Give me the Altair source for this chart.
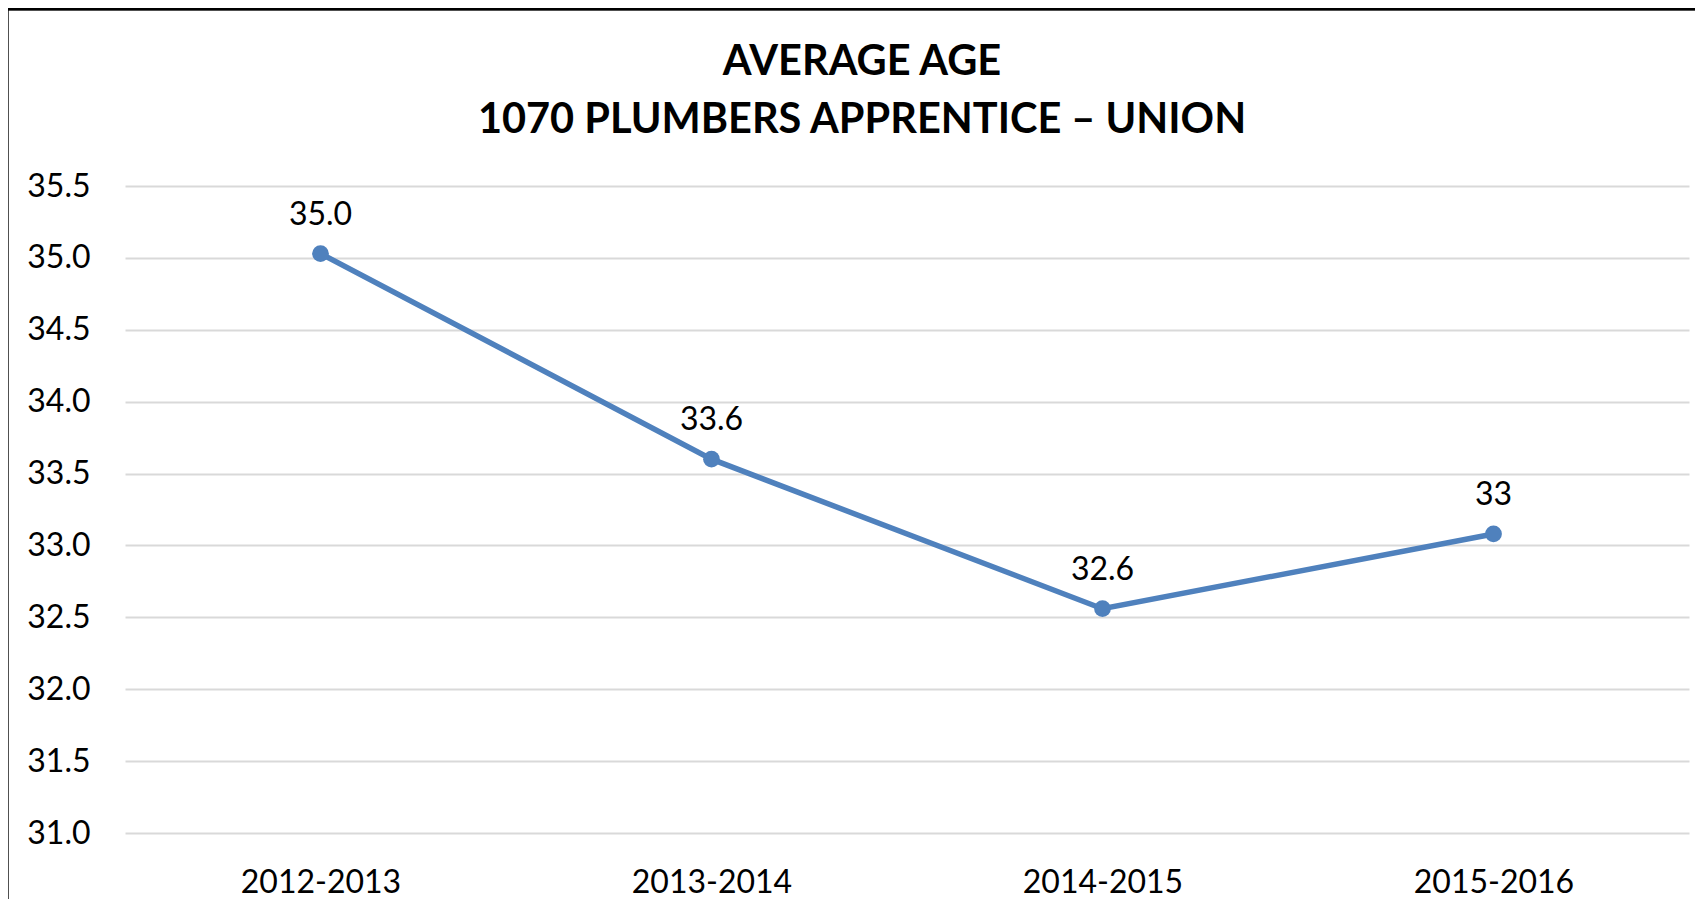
import altair as alt
import pandas as pd

periods = ["2012-2013", "2013-2014", "2014-2015", "2015-2016"]
avg_age = [35.03, 33.60, 32.56, 33.08]
value_labels = ["35.0", "33.6", "32.6", "33"]
y_ticks = [31.0, 31.5, 32.0, 32.5, 33.0, 33.5, 34.0, 34.5, 35.0, 35.5]
title_lines = ["AVERAGE AGE", "1070 PLUMBERS APPRENTICE \u2013 UNION"]

df = pd.DataFrame({"period": periods, "age": avg_age, "label": value_labels})

W, H = 1564, 647
FONT = "Lato"
BLUE = "#4F81BD"

x_enc = alt.X("period:N", sort=periods,
              scale=alt.Scale(type="point", padding=0.5),
              axis=alt.Axis(title=None, labelAngle=0, labelFontSize=32, labelFont=FONT,
                            labelColor="#000000", ticks=False, domain=False,
                            labelPadding=34, grid=False))
y_enc = alt.Y("age:Q", scale=alt.Scale(domain=[31, 35.5], nice=False, zero=False),
              axis=alt.Axis(title=None, values=y_ticks, format=".1f", labelFontSize=32,
                            labelFont=FONT, labelColor="#000000", ticks=False,
                            domain=False, labelPadding=35, gridColor="#D9D9D9",
                            gridWidth=2))

base = alt.Chart(df)

frame = base.mark_rect(filled=False, stroke="#000000", strokeWidth=2.5).encode(
    x=alt.value(-118), x2=alt.value(W + 200), y=alt.value(-177), y2=alt.value(H + 300)
)

title = alt.Chart(pd.DataFrame({"t": [0]})).mark_text(
    text=title_lines, font=FONT, fontSize=41.5, fontWeight="bold", lineHeight=58,
    color="#000000", align="center", baseline="alphabetic"
).encode(x=alt.value(737), y=alt.value(-111))

line = base.mark_line(color=BLUE, strokeWidth=5.5).encode(x=x_enc, y=y_enc)
points = base.mark_circle(color=BLUE, size=280, opacity=1).encode(x=x_enc, y=y_enc)
labels = base.mark_text(font=FONT, fontSize=32, color="#000000", baseline="alphabetic",
                        dy=-29).encode(x=x_enc, y=y_enc, text="label:N")

chart = alt.layer(line, points, labels, frame, title).properties(
    width=W, height=H,
    background="white",
    autosize=alt.AutoSizeParams(type="none"),
    padding={"left": 117, "top": 178, "right": 6, "bottom": 66},
).configure_view(strokeWidth=0, stroke=None)

chart.save("out.html", embed_options={"renderer": "svg", "actions": False})
